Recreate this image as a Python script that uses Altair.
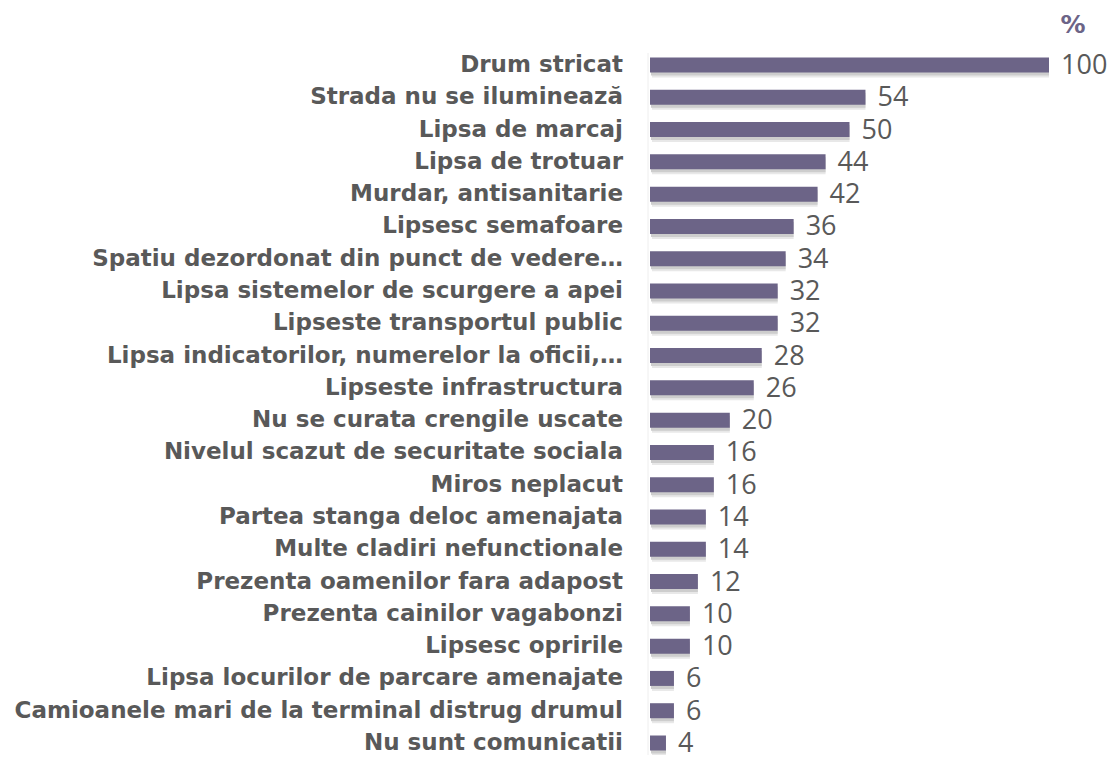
import altair as alt
import pandas as pd

categories = [
    "Drum stricat",
    "Strada nu se iluminează",
    "Lipsa de marcaj",
    "Lipsa de trotuar",
    "Murdar, antisanitarie",
    "Lipsesc semafoare",
    "Spatiu dezordonat din punct de vedere…",
    "Lipsa sistemelor de scurgere a apei",
    "Lipseste transportul public",
    "Lipsa indicatorilor, numerelor la oficii,…",
    "Lipseste infrastructura",
    "Nu se curata crengile uscate",
    "Nivelul scazut de securitate sociala",
    "Miros neplacut",
    "Partea stanga deloc amenajata",
    "Multe cladiri nefunctionale",
    "Prezenta oamenilor fara adapost",
    "Prezenta cainilor vagabonzi",
    "Lipsesc opririle",
    "Lipsa locurilor de parcare amenajate",
    "Camioanele mari de la terminal distrug drumul",
    "Nu sunt comunicatii",
]
values = [100, 54, 50, 44, 42, 36, 34, 32, 32, 28, 26, 20, 16, 16, 14, 14, 12, 10, 10, 6, 6, 4]

df = pd.DataFrame({
    "cat": categories,
    "val": values,
    "rank": list(range(1, len(categories) + 1)),
    "zero": [0] * len(categories),
})

BAR = "#6c6487"
GRAY = "#595959"
n = len(categories)

xs = alt.Scale(domain=[0, 100])
ys = alt.Scale(domain=[1, n], reverse=True)

base = alt.Chart(df)

x_enc = alt.X("zero:Q", scale=xs, axis=None)
y_enc = alt.Y("rank:Q", scale=ys, axis=None)

shadow2 = base.mark_rule(strokeWidth=15, color="#e8e8e8", yOffset=5, xOffset=2, strokeCap="butt").encode(
    x=x_enc, x2="val:Q", y=y_enc)
shadow1 = base.mark_rule(strokeWidth=15, color="#cdcdcd", yOffset=3, xOffset=1, strokeCap="butt").encode(
    x=x_enc, x2="val:Q", y=y_enc)
bars = base.mark_rule(strokeWidth=15, color=BAR, strokeCap="butt").encode(
    x=x_enc, x2="val:Q", y=y_enc)

vlabels = base.mark_text(align="left", baseline="middle", dx=12, dy=1,
                         font="Open Sans", fontSize=27, color=GRAY).encode(
    x=alt.X("val:Q", scale=xs, axis=None), y=y_enc, text="val:Q")

clabels = base.mark_text(align="right", baseline="middle", dx=-27, dy=0,
                         font="DejaVu Sans", fontWeight="bold", fontSize=23, color=GRAY).encode(
    x=x_enc, y=y_enc, text="cat:N")

pct = alt.Chart(pd.DataFrame({"t": ["%"]})).mark_text(
    align="center", baseline="middle", font="DejaVu Sans", fontWeight="bold",
    fontSize=25, color=BAR).encode(x=alt.value(423), y=alt.value(-40), text="t:N")

axisline = alt.Chart(pd.DataFrame({"a": [0]})).mark_rule(color="#eeeeee", strokeWidth=1).encode(
    x=alt.value(-2), y=alt.value(-12), y2=alt.value(690))

chart = alt.layer(axisline, shadow2, shadow1, bars, vlabels, clabels, pct).properties(
    width=399,
    height=678,
    autosize=alt.AutoSizeParams(type="none"),
    padding={"left": 642, "top": 57, "right": 59, "bottom": 12},
).configure_view(stroke=None)

chart.save("out.html", embed_options={"renderer": "svg", "actions": False})
